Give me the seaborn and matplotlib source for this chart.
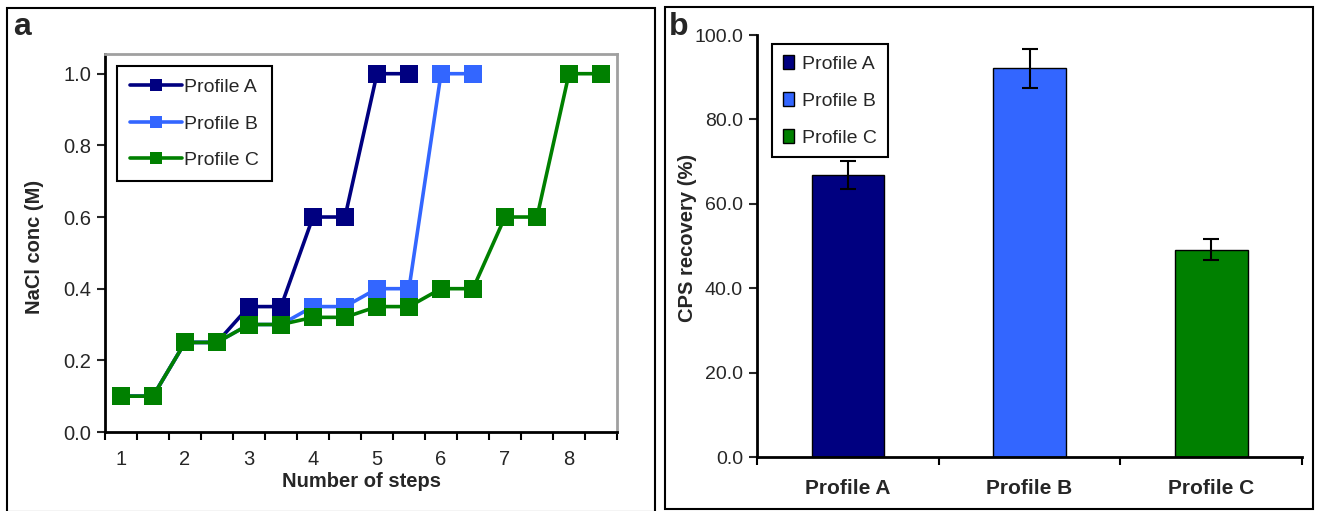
import matplotlib
matplotlib.use("Agg")
import matplotlib.pyplot as plt
from matplotlib.lines import Line2D
from matplotlib.patches import Patch, Rectangle
import numpy as np
import pandas as pd
import seaborn as sns

# data
steps = [1, 1.5, 2, 2.5, 3, 3.5, 4, 4.5, 5, 5.5, 6, 6.5, 7, 7.5, 8, 8.5]
profile_a = [0.10, 0.10, 0.25, 0.25, 0.35, 0.35, 0.60, 0.60, 1.00, 1.00]
profile_b = [0.10, 0.10, 0.25, 0.25, 0.30, 0.30, 0.35, 0.35, 0.40, 0.40, 1.00, 1.00]
profile_c = [0.10, 0.10, 0.25, 0.25, 0.30, 0.30, 0.32, 0.32, 0.35, 0.35,
             0.40, 0.40, 0.60, 0.60, 1.00, 1.00]

profiles = ["Profile A", "Profile B", "Profile C"]
recovery = [66.8, 92.1, 49.1]
recovery_err = [3.3, 4.6, 2.5]

colors = ["#000080", "#3366FF", "#008000"]

sns.set_style("ticks")
plt.rcParams["font.family"] = ["Liberation Sans", "DejaVu Sans"]
plt.rcParams["font.size"] = 14

W, H = 1317, 511
fig = plt.figure(figsize=(W / 100, H / 100), dpi=100)
fig.patch.set_facecolor("white")

# panel frames
fig.add_artist(Rectangle((7 / W, 1 - 512 / H), 648 / W, 504 / H, transform=fig.transFigure,
                         fill=False, edgecolor="black", linewidth=1.5))
fig.add_artist(Rectangle((665 / W, 1 - 509 / H), 648 / W, 502 / H, transform=fig.transFigure,
                         fill=False, edgecolor="black", linewidth=1.5))

# ---------- panel a ----------
ax1 = fig.add_axes([105 / W, 1 - 432 / H, (617 - 105) / W, (432 - 54) / H])
rows = []
for name, vals in zip(profiles, [profile_a, profile_b, profile_c]):
    for s, v in zip(steps, vals):
        rows.append({"step": s, "conc": v, "profile": name})
df = pd.DataFrame(rows)

sns.lineplot(data=df, x="step", y="conc", hue="profile", hue_order=profiles,
             palette=colors, marker="s", markersize=13, markeredgewidth=0,
             linewidth=2.6, legend=False, ax=ax1)

ax1.set_xlim(0.75, 8.75)
ax1.set_ylim(0, 1.055)
ax1.set_yticks(np.arange(0, 1.01, 0.2))
ax1.set_yticklabels([f"{v:.1f}" for v in np.arange(0, 1.01, 0.2)])
ax1.set_xticks(range(1, 9))
ax1.set_xticks(np.arange(0.75, 8.76, 0.5), minor=True)
ax1.tick_params(axis="x", which="major", length=0, pad=13, labelsize=14.5)
ax1.tick_params(axis="x", which="minor", length=6, width=1.5, direction="out", color="black")
ax1.tick_params(axis="y", length=6, width=1.5, direction="out", labelsize=14.5, pad=4)
ax1.set_xlabel("Number of steps", fontsize=14.5, fontweight="bold", labelpad=2)
ax1.set_ylabel("NaCl conc (M)", fontsize=14.5, fontweight="bold")
ax1.yaxis.set_label_coords(-0.12, 0.49)
for side in ["left", "bottom"]:
    ax1.spines[side].set_color("black")
    ax1.spines[side].set_linewidth(2)
for side in ["top", "right"]:
    ax1.spines[side].set_visible(True)
    ax1.spines[side].set_color("#a0a0a0")
    ax1.spines[side].set_linewidth(2)

line_handles = [Line2D([], [], color=c, linewidth=2.6, marker="s", markersize=8,
                       markeredgewidth=0) for c in colors]
leg1 = ax1.legend(line_handles, profiles, loc="upper left",
                  bbox_to_anchor=(117 / W, 1 - 66 / H), bbox_transform=fig.transFigure,
                  borderaxespad=0, fancybox=False, framealpha=1, edgecolor="black",
                  fontsize=14, handlelength=2.7, handletextpad=0.1, labelspacing=0.96,
                  borderpad=0.65)
leg1.get_frame().set_linewidth(1.5)

# ---------- panel b ----------
ax2 = fig.add_axes([757 / W, 1 - 457 / H, (1302 - 757) / W, (457 - 35) / H])
sns.barplot(x=profiles, y=recovery, hue=profiles, palette=colors, width=0.4,
            saturation=1, edgecolor="black", linewidth=1, legend=False, ax=ax2)
ax2.errorbar(x=np.arange(len(profiles)), y=recovery, yerr=recovery_err, fmt="none",
             ecolor="black", elinewidth=1.5, capsize=5.5, capthick=1.5)

ax2.set_xlim(-0.5, 2.5)
ax2.set_ylim(0, 100)
ax2.set_yticks(np.arange(0, 101, 20))
ax2.set_yticklabels([f"{v:.1f}" for v in np.arange(0, 101, 20)])
ax2.set_xticks(range(3))
ax2.set_xticklabels(profiles, fontweight="bold", fontsize=15)
ax2.set_xticks([-0.5, 0.5, 1.5, 2.5], minor=True)
ax2.tick_params(axis="x", which="major", length=0, pad=16)
ax2.tick_params(axis="x", which="minor", length=6, width=1.5, direction="out", color="black")
ax2.tick_params(axis="y", length=6, width=1.5, direction="out", labelsize=14, pad=4)
ax2.set_xlabel("")
ax2.set_ylabel("CPS recovery (%)", fontsize=14.5, fontweight="bold")
ax2.yaxis.set_label_coords(-0.11, 0.52)
sns.despine(ax=ax2)
for side in ["left", "bottom"]:
    ax2.spines[side].set_color("black")
    ax2.spines[side].set_linewidth(2)

bar_handles = [Patch(facecolor=c, edgecolor="black", linewidth=1) for c in colors]
leg2 = ax2.legend(bar_handles, profiles, loc="upper left",
                  bbox_to_anchor=(772 / W, 1 - 44 / H), bbox_transform=fig.transFigure,
                  borderaxespad=0, fancybox=False, framealpha=1, edgecolor="black",
                  fontsize=14, handlelength=0.6, handleheight=0.75, handletextpad=0.4,
                  labelspacing=0.98, borderpad=0.55)
leg2.get_frame().set_linewidth(1.5)

# panel letters
fig.text(13 / W, 1 - 35 / H, "a", fontsize=23, fontweight="bold", va="baseline")
fig.text(669 / W, 1 - 35 / H, "b", fontsize=23, fontweight="bold", va="baseline")

fig.savefig("out.png", dpi=100, facecolor="white")
